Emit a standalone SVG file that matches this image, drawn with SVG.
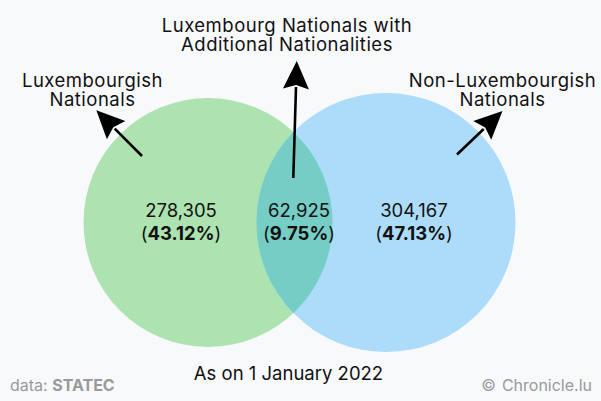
<svg xmlns="http://www.w3.org/2000/svg" width="601" height="401" viewBox="0 0 601 401">
<style>
text{font-family:Inter,"Noto Sans","Liberation Sans",sans-serif;fill:#111;}
.lbl{font-size:18.5px;letter-spacing:0.5px;text-anchor:middle;}
.num{font-size:18.5px;text-anchor:middle;}
.cap{font-size:18.5px;text-anchor:middle;}
.b{font-weight:700;}
.foot{font-size:16px;fill:#9a9a9a;}
.conn{stroke:#000;stroke-width:2.6;fill:none;marker-end:url(#ah);}
</style>
<defs>
<marker id="ah" markerUnits="userSpaceOnUse" markerWidth="32" markerHeight="32" viewBox="-3 -16 32 32" refX="0" refY="0" orient="auto">
<path d="M-2,-13 L26,0 L-2,13 L2,0 Z" fill="#000"/>
</marker>
</defs>
<rect width="601" height="401" fill="#f8f9fb"/>
<g id="green">
<circle cx="208" cy="222.5" r="124.5" fill="#ade3b0"/>
</g>
<g id="blue">
<circle cx="386" cy="222.5" r="129.5" fill="#acdcf9"/>
</g>
<g id="overlap">
<path d="M293.4,131.9 A129.5,129.5 0 0 0 293.4,313.1 A124.5,124.5 0 0 0 293.4,131.9 Z" fill="#76cdc5"/>
</g>
<g id="connectors">
<line class="conn" x1="142" y1="156" x2="114.7" y2="128.7"/>
<line class="conn" x1="293.3" y1="178" x2="296" y2="87"/>
<line class="conn" x1="457" y1="154.5" x2="483.7" y2="129"/>
</g>
<g id="label-lux">
<text class="lbl" x="92.5" y="86.5">Luxembourgish<tspan x="92.5" y="105.5">Nationals</tspan></text>
</g>
<g id="label-both">
<text class="lbl" x="287" y="31.7">Luxembourg Nationals with<tspan x="287" y="50.7">Additional Nationalities</tspan></text>
</g>
<g id="label-non">
<text class="lbl" x="502.5" y="86.5">Non-Luxembourgish<tspan x="502.5" y="105.5">Nationals</tspan></text>
</g>
<g id="value-lux">
<text class="num" x="181" y="217">278,305</text>
<text class="num" x="181" y="240">(<tspan class="b">43.12%</tspan>)</text>
</g>
<g id="value-both">
<text class="num" x="299" y="217">62,925</text>
<text class="num" x="299" y="240">(<tspan class="b">9.75%</tspan>)</text>
</g>
<g id="value-non">
<text class="num" x="414" y="217">304,167</text>
<text class="num" x="414" y="240">(<tspan class="b">47.13%</tspan>)</text>
</g>
<g id="caption">
<text class="cap" x="288.5" y="380">As on 1 January 2022</text>
</g>
<g id="source">
<text class="foot" x="10" y="391">data: <tspan class="b" fill="#9a9a9a">STATEC</tspan></text>
</g>
<g id="credit">
<text class="foot" x="592" y="391" text-anchor="end">©<tspan dx="6">Chronicle.lu</tspan></text>
</g>
</svg>
